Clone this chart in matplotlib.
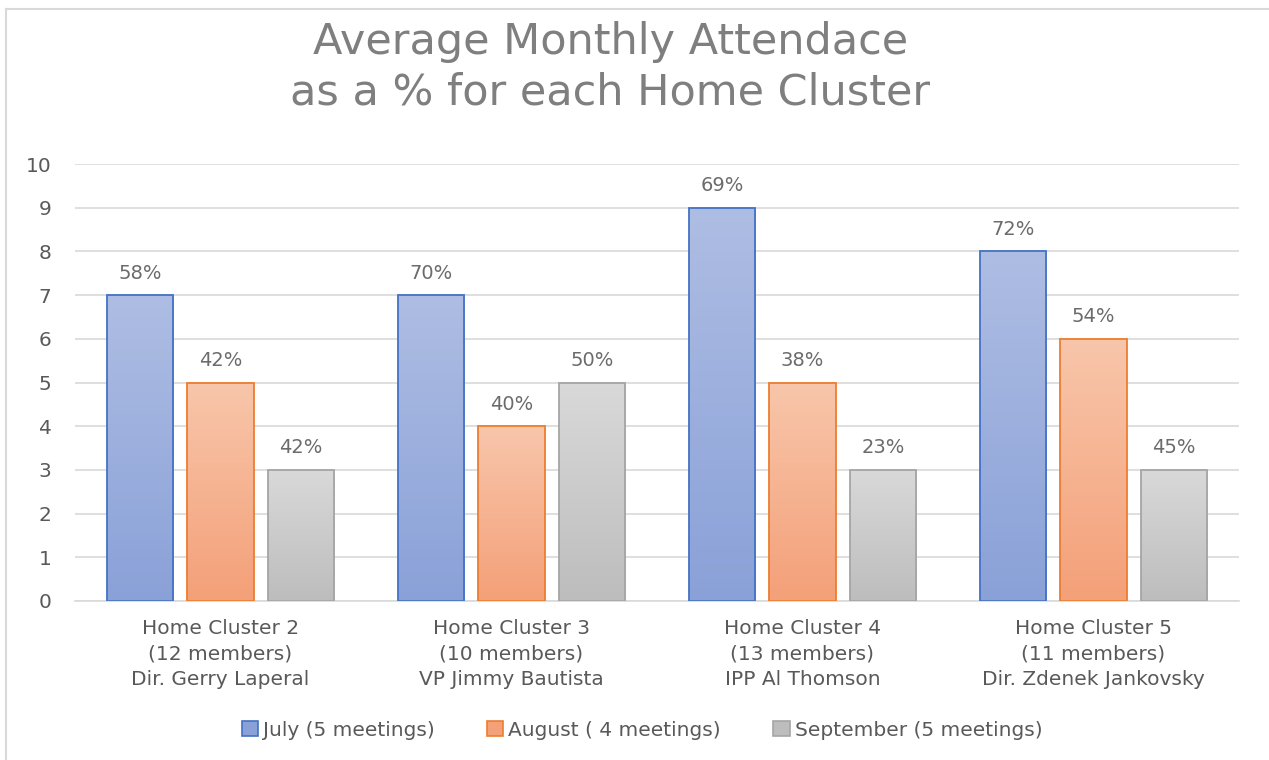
import numpy as np
import matplotlib.pyplot as plt
from matplotlib.colors import LinearSegmentedColormap
from matplotlib.lines import Line2D
from matplotlib.patches import Patch

plt.rcParams['font.family'] = ['DejaVu Sans']

# data
clusters = ['Home Cluster 2\n(12 members)\nDir. Gerry Laperal',
            'Home Cluster 3\n(10 members)\nVP Jimmy Bautista',
            'Home Cluster 4\n(13 members)\nIPP Al Thomson',
            'Home Cluster 5\n(11 members)\nDir. Zdenek Jankovsky']
series_names = ['July (5 meetings)', 'August ( 4 meetings)', 'September (5 meetings)']
july = [7, 7, 9, 8]
august = [5, 4, 5, 6]
september = [3, 5, 3, 3]
july_pct = ['58%', '70%', '69%', '72%']
august_pct = ['42%', '40%', '38%', '54%']
september_pct = ['42%', '50%', '23%', '45%']

# styles: (top colour, bottom colour, edge colour)
styles = [('#aebde3', '#8aa1d8', '#4472c4'),
          ('#f8c6ab', '#f4a078', '#ed7d31'),
          ('#d9d9d9', '#bdbdbd', '#a5a5a5')]

fig = plt.figure(figsize=(12.69, 7.6), dpi=100)
ax = fig.add_axes([75 / 1269, 1 - 601 / 760, 1164 / 1269, 437 / 760])

x = np.arange(len(clusters))
width = 0.227
step = 0.276
values = [july, august, september]
labels = [july_pct, august_pct, september_pct]

for i, (vals, pcts) in enumerate(zip(values, labels)):
    top, bottom, edge = styles[i]
    cmap = LinearSegmentedColormap.from_list('g%d' % i, [bottom, top])
    pos = x + (i - 1) * step
    bars = ax.bar(pos, vals, width, facecolor='none', edgecolor=edge, linewidth=1.3, zorder=3)
    grad = np.linspace(0, 1, 256).reshape(-1, 1)
    for b, p in zip(bars, pcts):
        x0, y0 = b.get_x(), b.get_y()
        w, h = b.get_width(), b.get_height()
        im = ax.imshow(grad, cmap=cmap, origin='lower', aspect='auto',
                       extent=[x0, x0 + w, y0, y0 + h], zorder=2)
        im.set_clip_path(b)
        ax.annotate(p, (x0 + w / 2, y0 + h), xytext=(0, 9), textcoords='offset points',
                    ha='center', va='bottom', fontsize=14, color='#6b6b6b')

ax.set_xlim(-0.5, 3.5)
ax.set_ylim(0, 10)
ax.set_yticks(range(0, 11))
ax.set_xticks(x)
ax.set_xticklabels(clusters, linespacing=1.42)
ax.tick_params(axis='both', length=0, labelsize=14.5, colors='#595959')
ax.tick_params(axis='x', pad=13)
ax.tick_params(axis='y', pad=17)
ax.grid(axis='y', color='#d9d9d9', linewidth=1.2, zorder=0)
ax.set_axisbelow(True)
for s in ['top', 'right', 'left']:
    ax.spines[s].set_visible(False)
ax.spines['bottom'].set_color('#d9d9d9')
ax.spines['bottom'].set_linewidth(1.2)

fig.text(0.481, 1 - 67 / 760, 'Average Monthly Attendace\nas a % for each Home Cluster',
         ha='center', va='center', fontsize=31, color='#7f7f7f', linespacing=1.25)

handles = [Patch(facecolor=s[1], edgecolor=s[2], linewidth=1.2) for s in styles]
fig.legend(handles, series_names, loc='center', bbox_to_anchor=(0.506, 1 - 730 / 760),
           ncol=3, frameon=False, fontsize=14.5, labelcolor='#595959',
           handlelength=0.8, handleheight=0.8, handletextpad=0.25, columnspacing=2.6)

# surrounding sheet border
fig.add_artist(Line2D([6 / 1269, 1], [1 - 9 / 760, 1 - 9 / 760], color='#d9d9d9', lw=1.5))
fig.add_artist(Line2D([6 / 1269, 6 / 1269], [0, 1 - 9 / 760], color='#d9d9d9', lw=1.5))

fig.savefig('out.png', dpi=100)
